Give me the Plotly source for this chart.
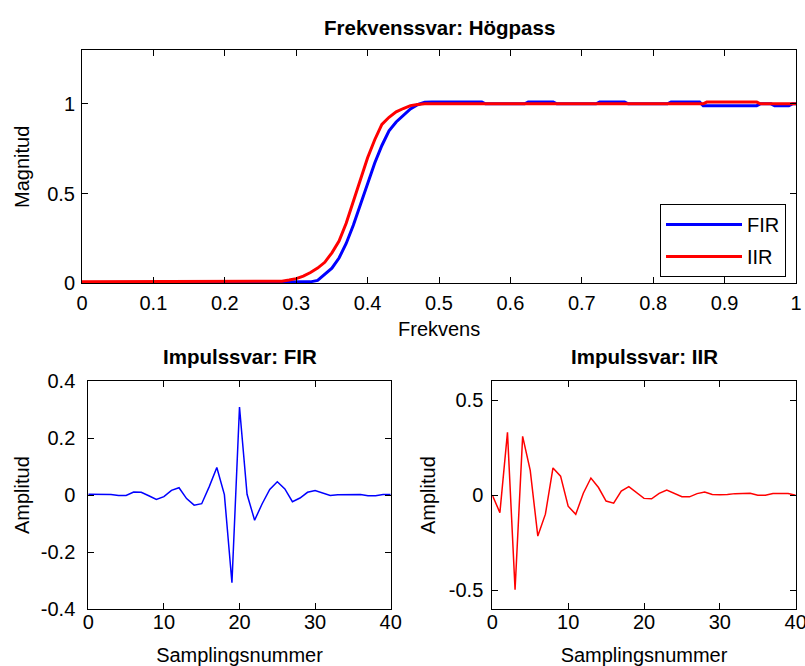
import plotly.graph_objects as go

# ---- Data ----
fir_freq = [0.0, 0.1, 0.2, 0.3, 0.31, 0.32, 0.33, 0.34, 0.35, 0.36, 0.37, 0.38, 0.39, 0.40,
            0.41, 0.42, 0.43, 0.44, 0.45, 0.46, 0.47, 0.48, 0.49, 0.50, 0.56, 0.565, 0.62,
            0.625, 0.66, 0.665, 0.72, 0.725, 0.76, 0.765, 0.82, 0.825, 0.865, 0.87, 0.945,
            0.95, 0.965, 0.97, 0.99, 0.995, 1.0]
fir_mag = [0.004, 0.004, 0.004, 0.004, 0.005, 0.008, 0.016, 0.048, 0.084, 0.141, 0.222, 0.323,
           0.442, 0.556, 0.67, 0.768, 0.85, 0.899, 0.938, 0.972, 0.995, 1.009, 1.01, 1.01,
           1.01, 1.0, 1.0, 1.01, 1.01, 1.0, 1.0, 1.01, 1.01, 1.0, 1.0, 1.01, 1.01, 0.99, 0.99,
           1.0, 1.0, 0.99, 0.99, 1.0, 1.0]

iir_freq = [0.0, 0.1, 0.2, 0.27, 0.28, 0.29, 0.30, 0.31, 0.32, 0.33, 0.34, 0.35, 0.36, 0.37,
            0.38, 0.39, 0.40, 0.41, 0.42, 0.43, 0.44, 0.45, 0.46, 0.47, 0.48, 0.5, 0.87,
            0.875, 0.945, 0.95, 1.0]
iir_mag = [0.008, 0.008, 0.008, 0.008, 0.012, 0.018, 0.026, 0.04, 0.06, 0.085, 0.117, 0.17,
           0.235, 0.335, 0.455, 0.575, 0.70, 0.80, 0.885, 0.925, 0.955, 0.974, 0.99, 0.996,
           1.0, 1.0, 1.0, 1.01, 1.01, 1.0, 1.0]

samples = list(range(41))
fir_impulse = [0.003, 0.003, 0.003, 0.002, -0.001, -0.001, 0.011, 0.010, -0.002, -0.015,
               -0.005, 0.017, 0.026, -0.012, -0.035, -0.030, 0.030, 0.097, 0.002, -0.307,
               0.309, 0.003, -0.088, -0.030, 0.020, 0.047, 0.022, -0.023, -0.010, 0.010,
               0.016, 0.008, -0.001, 0.001, 0.002, 0.002, 0.002, -0.002, -0.002, 0.002, 0.002]
iir_impulse = [0.0, -0.092, 0.33, -0.497, 0.309, 0.13, -0.215, -0.1, 0.143, 0.10,
               -0.058, -0.101, 0.01, 0.09, 0.04, -0.031, -0.042, 0.021, 0.045, 0.015,
               -0.017, -0.019, 0.009, 0.027, 0.008, -0.008, -0.009, 0.008, 0.017, 0.004,
               0.002, 0.003, 0.008, 0.01, 0.01, 0.0, 0.0, 0.009, 0.009, 0.009, 0.0]

freq_ticks = [0, 0.1, 0.2, 0.3, 0.4, 0.5, 0.6, 0.7, 0.8, 0.9, 1]
freq_ticktext = ["0", "0.1", "0.2", "0.3", "0.4", "0.5", "0.6", "0.7", "0.8", "0.9", "1"]
mag_ticks = [0, 0.5, 1]
mag_ticktext = ["0", "0.5", "1"]
samp_ticks = [0, 10, 20, 30, 40]
samp_ticktext = ["0", "10", "20", "30", "40"]
fir_amp_ticks = [-0.4, -0.2, 0, 0.2, 0.4]
fir_amp_ticktext = ["-0.4", "-0.2", "0", "0.2", "0.4"]
iir_amp_ticks = [-0.5, 0, 0.5]
iir_amp_ticktext = ["-0.5", "0", "0.5"]

W, H = 805, 666
def px(x):
    return x / W
def py(y):
    return 1 - y / H

FONT = "Liberation Sans, Arial, Helvetica, sans-serif"

fig = go.Figure()
fig.add_trace(go.Scatter(x=fir_freq, y=fir_mag, mode="lines", name="FIR",
                         line=dict(color="#0000ff", width=3), legendgroup="fir",
                         xaxis="x", yaxis="y"))
fig.add_trace(go.Scatter(x=iir_freq, y=iir_mag, mode="lines", name="IIR",
                         line=dict(color="#ff0000", width=3), legendgroup="iir",
                         xaxis="x", yaxis="y"))
fig.add_trace(go.Scatter(x=samples, y=fir_impulse, mode="lines", showlegend=False,
                         line=dict(color="#0000ff", width=1.5), xaxis="x2", yaxis="y2"))
fig.add_trace(go.Scatter(x=samples, y=iir_impulse, mode="lines", showlegend=False,
                         line=dict(color="#ff0000", width=1.5), xaxis="x3", yaxis="y3"))

common = dict(showline=True, linecolor="black", linewidth=1, mirror="ticks",
              ticks="inside", ticklen=6, tickwidth=1, tickcolor="black",
              showgrid=False, zeroline=False, automargin=False,
              ticklabeloverflow="allow",
              tickfont=dict(family=FONT, size=20, color="black"))

xtitle = dict(text="Samplingsnummer", font=dict(family=FONT, size=20, color="black"),
              standoff=16)

top_y = [py(283.3), py(50)]
bot_y = [py(609.3), py(381)]

fig.update_layout(
    width=W, height=H,
    margin=dict(l=0, r=0, t=0, b=0),
    paper_bgcolor="white", plot_bgcolor="white",
    font=dict(family=FONT, size=20, color="black"),
    xaxis=dict(domain=[px(82), px(796)], range=[0, 1], anchor="y",
               tickmode="array", tickvals=freq_ticks, ticktext=freq_ticktext,
               ticklabelstandoff=2, **common),
    yaxis=dict(domain=top_y, range=[0, 1.3], anchor="x",
               tickmode="array", tickvals=mag_ticks, ticktext=mag_ticktext,
               ticklabelstandoff=2, **common),
    xaxis2=dict(domain=[px(88.3), px(390.7)], range=[0, 40], anchor="y2",
                tickmode="array", tickvals=samp_ticks, ticktext=samp_ticktext,
                ticklabelstandoff=-5, title=xtitle, **common),
    yaxis2=dict(domain=bot_y, range=[-0.4, 0.4], anchor="x2",
                tickmode="array", tickvals=fir_amp_ticks, ticktext=fir_amp_ticktext,
                ticklabelstandoff=8, **common),
    xaxis3=dict(domain=[px(492.3), px(795.7)], range=[0, 40], anchor="y3",
                tickmode="array", tickvals=samp_ticks, ticktext=samp_ticktext,
                ticklabelstandoff=-5, title=xtitle, **common),
    yaxis3=dict(domain=bot_y, range=[-0.6, 0.6], anchor="x3",
                tickmode="array", tickvals=iir_amp_ticks, ticktext=iir_amp_ticktext,
                ticklabelstandoff=4, **common),
    legend=dict(x=px(786), y=py(204), xanchor="right", yanchor="top",
                bgcolor="white", bordercolor="black", borderwidth=1,
                font=dict(family=FONT, size=20, color="black"),
                tracegroupgap=3, itemwidth=76),
    showlegend=True,
)

def label(text, x, y, size=20, angle=0, yanchor="middle"):
    fig.add_annotation(text=text, x=px(x), y=py(y), xref="paper", yref="paper",
                       showarrow=False, textangle=angle, xanchor="center", yanchor=yanchor,
                       font=dict(family=FONT, size=size, color="black"))

label("<b>Frekvenssvar: Högpass</b>", 439, 27, size=20.5)
label("<b>Impulssvar: FIR</b>", 239.5, 356, size=20.5)
label("<b>Impulssvar: IIR</b>", 644, 356, size=20.5)
label("Frekvens", 439, 329)
label("Magnitud", 22, 167, angle=-90)
label("Amplitud", 22, 495, angle=-90)
label("Amplitud", 428, 495, angle=-90)

fig.write_html("out.html")
